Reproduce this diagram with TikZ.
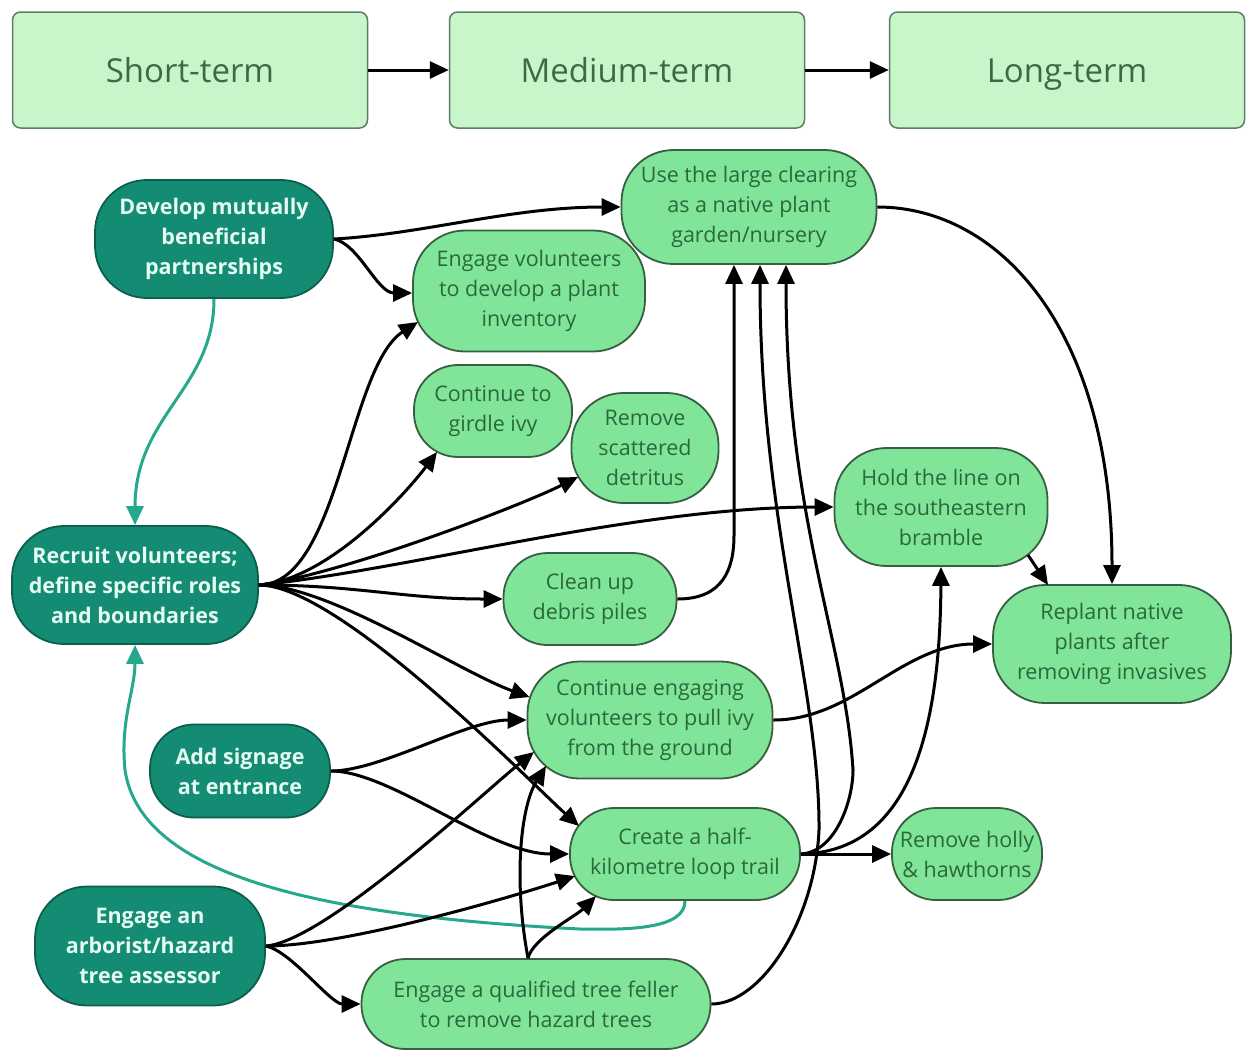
\documentclass[tikz,border=0pt]{standalone}
\usepackage{fontspec}
\setmainfont{Open Sans}
\usetikzlibrary{arrows.meta,calc}
\definecolor{hdrfill}{RGB}{200,245,202}
\definecolor{hdrdraw}{RGB}{95,125,100}
\definecolor{hdrtext}{RGB}{62,105,72}
\definecolor{lfill}{RGB}{128,229,152}
\definecolor{ldraw}{RGB}{55,95,65}
\definecolor{ltext}{RGB}{42,105,58}
\definecolor{tfill}{RGB}{20,140,115}
\definecolor{tdraw}{RGB}{12,95,78}
\definecolor{ttext}{RGB}{228,250,242}
\definecolor{tealline}{RGB}{38,168,140}
\begin{document}
\begin{tikzpicture}[x=1pt,y=-1pt,
  hdr/.style={draw=hdrdraw,line width=1.5pt,fill=hdrfill,rounded corners=8pt,
    minimum width=355pt,minimum height=116pt,inner sep=0pt,text=hdrtext,
    text height=24pt,text depth=0pt,
    font=\fontsize{33}{40}\selectfont},
  lnode/.style={draw=ldraw,line width=1.8pt,fill=lfill,rounded corners=44pt,
    inner sep=0pt,align=center,text=ltext,font=\fontsize{21.5}{30}\selectfont},
  tnode/.style={draw=tdraw,line width=1.8pt,fill=tfill,rounded corners=44pt,
    inner sep=0pt,align=center,text=ttext,font=\bfseries\fontsize{21.5}{30}\selectfont},
  three/.style={rounded corners=52pt},
  arr/.style={line width=3pt,draw=black,-{Triangle[length=19pt,width=17pt]}},
  tarr/.style={line width=3pt,draw=tealline,-{Triangle[length=19pt,width=17pt]}}]
\useasboundingbox (0,0) rectangle (1246,1050);

% headers
\node[hdr] (st) at (190,70) {Short-term};
\node[hdr] (mt) at (627,70) {Medium-term};
\node[hdr] (lt) at (1067,70) {Long-term};

% teal nodes
\node[tnode,three,minimum width=238pt,minimum height=118pt] (dev) at (214,239) {Develop mutually\\beneficial\\partnerships};
\node[tnode,three,minimum width=246pt,minimum height=118pt] (rec) at (135,585) {Recruit volunteers;\\define specific roles\\and boundaries};
\node[tnode,minimum width=180pt,minimum height=93pt] (sign) at (240,771) {Add signage\\at entrance};
\node[tnode,three,minimum width=230pt,minimum height=119pt] (arb) at (150,946) {Engage an\\arborist/hazard\\tree assessor};

% light nodes
\node[lnode,three,minimum width=255pt,minimum height=114pt] (use) at (749,207) {Use the large clearing\\as a native plant\\garden/nursery};
\node[lnode,three,minimum width=232pt,minimum height=121pt] (inv) at (529,291) {Engage volunteers\\to develop a plant\\inventory};
\node[lnode,minimum width=158pt,minimum height=92pt] (gird) at (493,411) {Continue to\\girdle ivy};
\node[lnode,three,minimum width=147pt,minimum height=110pt] (det) at (645,448) {Remove\\scattered\\detritus};
\node[lnode,three,minimum width=213pt,minimum height=118pt] (hold) at (941,507) {Hold the line on\\the southeastern\\bramble};
\node[lnode,minimum width=173pt,minimum height=92pt] (clean) at (590,599) {Clean up\\debris piles};
\node[lnode,three,minimum width=238pt,minimum height=118pt] (rep) at (1112,644) {Replant native\\plants after\\removing invasives};
\node[lnode,three,minimum width=245pt,minimum height=117pt] (pull) at (650,720) {Continue engaging\\volunteers to pull ivy\\from the ground};
\node[lnode,minimum width=230pt,minimum height=92pt] (trail) at (685,854) {Create a half-\\kilometre loop trail};
\node[lnode,minimum width=150pt,minimum height=92pt] (holly) at (967,854) {Remove holly\\\& hawthorns};
\node[lnode,minimum width=349pt,minimum height=90pt] (fell) at (536,1004) {Engage a qualified tree feller\\to remove hazard trees};

% header arrows
\draw[arr] (st.east) -- (mt.west);
\draw[arr] (mt.east) -- (lt.west);

% teal connectors
\draw[tarr] (dev.south) .. controls +(0,90) and +(0,-110) .. (rec.north);
\draw[tarr] (trail.south) .. controls +(0,28) and (630,930) .. (580,929)
  .. controls (300,915) and (140,870) .. (125,770)
  .. controls (120,720) and (135,690) .. (rec.south);

% from dev
\draw[arr] (dev.east) .. controls +(90,-5) and +(-110,0) .. (use.west);
\draw[arr] (dev.east) .. controls +(25,5) and +(-35,0) .. ($(inv.west)+(0,2)$);

% from rec
\draw[arr] (rec.east) .. controls +(80,0) and +(-70,45) .. ($(inv)+(-111,31)$);
\draw[arr] (rec.east) .. controls +(70,-5) and +(-30,40) .. ($(gird)+(-56,41)$);
\draw[arr] (rec.east) .. controls +(80,-10) and +(-60,30) .. ($(det)+(-67,29)$);
\draw[arr] (rec.east) .. controls +(150,-15) and +(-200,0) .. (hold.west);
\draw[arr] (rec.east) .. controls +(100,0) and +(-100,0) .. (clean.west);
\draw[arr] (rec.east) .. controls +(70,0) and +(-70,-25) .. ($(pull.west)+(3,-23)$);
\draw[arr] (rec.east) .. controls +(80,0) and +(-50,-45) .. ($(trail)+(-106,-28)$);

% from clean
\draw[arr] (clean.east) .. controls +(45,0) and +(0,35) .. (734,535) -- ($(use.south)+(-15,0)$);

% from sign
\draw[arr] (sign.east) .. controls +(50,0) and +(-60,0) .. (pull.west);
\draw[arr] (sign.east) .. controls +(60,0) and +(-80,0) .. (trail.west);

% from arb
\draw[arr] (arb.east) .. controls +(60,-5) and +(-50,40) .. ($(pull)+(-116,32)$);
\draw[arr] (arb.east) .. controls +(80,0) and +(-60,20) .. ($(trail)+(-110,22)$);
\draw[arr] (arb.east) .. controls +(25,5) and +(-30,0) .. (fell.west);

% from fell
\draw[arr] ($(fell.north)+(-8,0)$) .. controls +(-15,-80) and +(-25,40) .. ($(pull)+(-104,46)$);
\draw[arr] ($(fell.north)+(-8,0)$) .. controls +(5,-20) and +(-20,20) .. ($(trail)+(-89,42)$);
\draw[arr] (fell.east) .. controls +(50,0) and (815,920) .. (819,830)
  .. controls (820,690) and (760,520) .. ($(use.south)+(11,0)$);

% from trail
\draw[arr] (trail.east) .. controls +(35,-2) and (853,800) .. (853,770)
  .. controls (845,640) and (786,520) .. ($(use.south)+(37,0)$);
\draw[arr] (trail.east) .. controls +(100,-2) and +(-1,184) .. (hold.south);
\draw[arr] (trail.east) -- (holly.west);

% to rep
\draw[arr] (use.east) .. controls +(123,0) and +(0,-253) .. (rep.north);
\draw[arr] ($(hold)+(87,48)$) -- ($(rep)+(-64,-59)$);
\draw[arr] (pull.east) .. controls +(80,0) and +(-90,0) .. (rep.west);
\end{tikzpicture}
\end{document}
